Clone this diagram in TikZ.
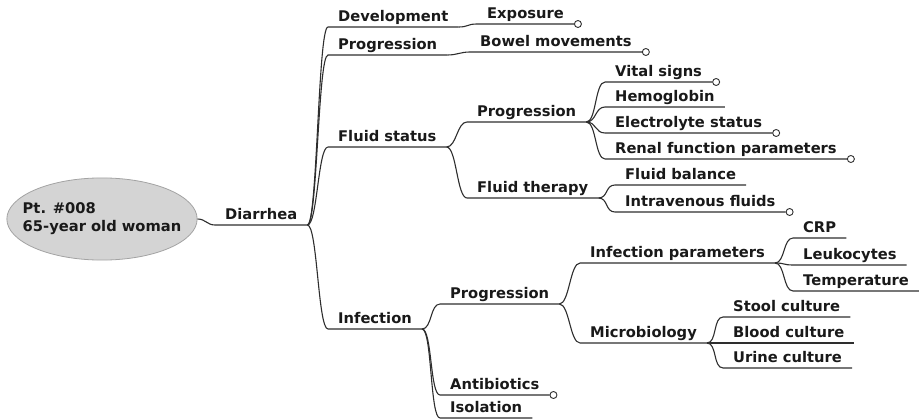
\documentclass[tikz,border=0pt]{standalone}
\usepackage{fontspec}
\usepackage{xcolor}
\usepackage{tikz}
\usetikzlibrary{positioning,shapes.geometric}
\newfontfamily\mapfont{DejaVu Sans}

\definecolor{edgegray}{HTML}{2E2E2E}
\definecolor{rootfill}{HTML}{D4D4D4}
\definecolor{rootline}{HTML}{A3A3A3}

\begin{document}
\begin{tikzpicture}[
    x=1pt, y=-1pt,
    root/.style={ellipse, draw=rootline, fill=rootfill, line width=0.8pt, minimum width=190pt, minimum height=76pt, align=left, inner xsep=-12pt, inner ysep=13pt, font=\mapfont\bfseries\fontsize{14.7}{18}\selectfont, text=black!90},
    topic/.style={anchor=south west, inner xsep=10pt, inner ysep=2.5pt, text height=10.5pt, text depth=3pt, font=\mapfont\bfseries\fontsize{14.7}{18}\selectfont, text=black!90},
    knob/.style={circle, draw=edgegray, fill=white, line width=0.9pt, minimum size=7pt, inner sep=0pt},
    link/.style={draw=edgegray, line width=1.1pt, out=0, in=180, distance=10pt}
]
\useasboundingbox (0,0) rectangle (919,420);

% root and first level
\node[root] (pt) at (102,219) {Pt. \#008\\65-year old woman};
\node[topic] (dia) at (215,225) {Diarrhea};

\node[topic] (dev) at (328,27) {Development};
\node[topic] (prg) at (328,55) {Progression};
\node[topic] (flu) at (328,147) {Fluid status};
\node[topic] (inf) at (328,329) {Infection};

% development, progression
\node[topic] (exp) at (477,24) {Exposure};
\node[topic] (bow) at (470,52) {Bowel movements};

% fluid status
\node[topic] (fpr) at (467,122) {Progression};
\node[topic] (fth) at (467,198) {Fluid therapy};
\node[topic] (vit) at (605,82) {Vital signs};
\node[topic] (hgb) at (605,107) {Hemoglobin};
\node[topic] (ele) at (605,133) {Electrolyte status};
\node[topic] (ren) at (605,159) {Renal function parameters};
\node[topic] (fba) at (615,185) {Fluid balance};
\node[topic] (ivf) at (615,212) {Intravenous fluids};

% infection
\node[topic] (ipr) at (440,304) {Progression};
\node[topic] (abx) at (440,395) {Antibiotics};
\node[topic] (iso) at (440,418) {Isolation};
\node[topic] (ipa) at (580,263) {Infection parameters};
\node[topic] (mic) at (580,343) {Microbiology};
\node[topic] (crp) at (793,238) {CRP};
\node[topic] (leu) at (793,265) {Leukocytes};
\node[topic] (tmp) at (793,291) {Temperature};
\node[topic] (sto) at (723,317) {Stool culture};
\node[topic] (blo) at (723,343) {Blood culture};
\node[topic] (uri) at (723,368) {Urine culture};

% folded markers
\node[knob, right=0pt of exp.south east] (expk) {};
\node[knob, right=0pt of bow.south east] (bowk) {};
\node[knob, right=0pt of vit.south east] (vitk) {};
\node[knob, right=0pt of ele.south east] (elek) {};
\node[knob, right=0pt of ren.south east] (renk) {};
\node[knob, right=0pt of ivf.south east] (ivfk) {};
\node[knob, right=0pt of abx.south east] (abxk) {};

\draw[link] (pt.east) to[distance=8pt] (dia.south west) -- (dia.south east);

\draw[link] (dia.south east) to (dev.south west) -- (dev.south east);
\draw[link] (dia.south east) to (prg.south west) -- (prg.south east);
\draw[link] (dia.south east) to (flu.south west) -- (flu.south east);
\draw[link] (dia.south east) to (inf.south west) -- (inf.south east);

\draw[link] (dev.south east) to (exp.south west) -- (exp.south east);
\draw[link] (prg.south east) to (bow.south west) -- (bow.south east);

\draw[link] (flu.south east) to (fpr.south west) -- (fpr.south east);
\draw[link] (flu.south east) to (fth.south west) -- (fth.south east);
\draw[link] (fpr.south east) to (vit.south west) -- (vit.south east);
\draw[link] (fpr.south east) to (hgb.south west) -- (hgb.south east);
\draw[link] (fpr.south east) to (ele.south west) -- (ele.south east);
\draw[link] (fpr.south east) to (ren.south west) -- (ren.south east);
\draw[link] (fth.south east) to (fba.south west) -- (fba.south east);
\draw[link] (fth.south east) to (ivf.south west) -- (ivf.south east);

\draw[link] (inf.south east) to (ipr.south west) -- (ipr.south east);
\draw[link] (inf.south east) to (abx.south west) -- (abx.south east);
\draw[link] (inf.south east) to (iso.south west) -- (iso.south east);
\draw[link] (ipr.south east) to (ipa.south west) -- (ipa.south east);
\draw[link] (ipr.south east) to (mic.south west) -- (mic.south east);
\draw[link] (ipa.south east) to (crp.south west) -- (crp.south east);
\draw[link] (ipa.south east) to (leu.south west) -- (leu.south east);
\draw[link] (ipa.south east) to (tmp.south west) -- (tmp.south east);
\draw[link] (mic.south east) to (sto.south west) -- (sto.south east);
\draw[link] (mic.south east) to (blo.south west) -- (blo.south east);
\draw[link] (mic.south east) to (uri.south west) -- (uri.south east);
\end{tikzpicture}
\end{document}
